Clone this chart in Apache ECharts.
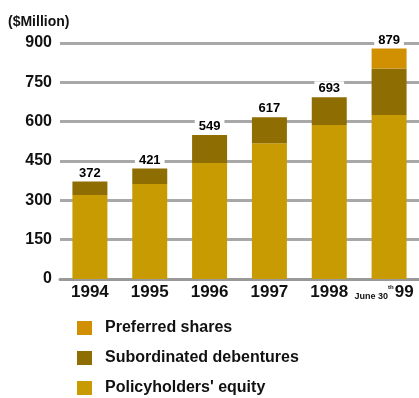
<!DOCTYPE html>
<html><head><meta charset="utf-8">
<script src="https://cdn.jsdelivr.net/npm/echarts@6/dist/echarts.min.js"></script>
<style>html,body{margin:0;padding:0;background:#fff}#c{width:419px;height:398px}</style>
</head><body><div id="c"></div>
<script>
var categories = ['1994','1995','1996','1997','1998','99'];
var equity = [320, 362, 442, 518, 587, 625];
var debentures = [52, 59, 107, 99, 106, 178];
var preferred = [0, 0, 0, 0, 0, 76];
var totals = [372, 421, 549, 617, 693, 879];
var yTicks = [0, 150, 300, 450, 600, 750, 900];

var FONT = '"Liberation Sans", Arial, sans-serif';
var chart = echarts.init(document.getElementById('c'));
chart.setOption({
  animation: false,
  backgroundColor: '#fff',
  textStyle: {fontFamily: FONT},
  title: {text: '($Million)', left: 3, top: 10,
    textStyle: {fontFamily: FONT, fontSize: 14, fontWeight: 'bold', color: '#111'}},
  grid: {left: 60, right: -1, top: 43, bottom: 119},
  legend: {
    orient: 'vertical', left: 72, top: 315, height: 90, itemGap: 14, itemWidth: 15, itemHeight: 14,
    icon: 'rect',
    data: ['Preferred shares', 'Subordinated debentures', "Policyholders' equity"],
    textStyle: {fontFamily: FONT, fontSize: 16, fontWeight: 'bold', color: '#111', padding: [0,0,0,8]}
  },
  xAxis: {
    type: 'category', data: categories,
    axisLine: {show: true, lineStyle: {color: '#999', width: 3}},
    axisTick: {show: false},
    axisLabel: {
      interval: 0, hideOverlap: false,
      margin: 5, fontFamily: FONT, fontSize: 17, fontWeight: 'bold', color: '#111',
      formatter: function (v) { return v === '99' ? '{s|June 30}{t|th}{b|99}' : v; },
      rich: {
        s: {fontFamily: FONT, fontSize: 9, color: '#111', verticalAlign: 'bottom'},
        t: {fontFamily: FONT, fontSize: 6, color: '#111', verticalAlign: 'top', padding: [0,1,0,0]},
        b: {fontFamily: FONT, fontSize: 17, fontWeight: 'bold', color: '#111', padding: [0,10,0,0]}
      }
    }
  },
  yAxis: {
    type: 'value', min: 0, max: 900, interval: 150,
    axisLine: {show: false}, axisTick: {show: false},
    splitLine: {lineStyle: {color: '#a8a8a8', width: 3}},
    axisLabel: {margin: 8, fontFamily: FONT, fontSize: 16, fontWeight: 'bold', color: '#111',
      formatter: function (v) { return yTicks.indexOf(v) >= 0 ? String(v) : ''; }}
  },
  series: [
    {name: "Policyholders' equity", type: 'bar', stack: 't', barWidth: 35, data: equity,
     itemStyle: {color: '#C99B03'}},
    {name: 'Subordinated debentures', type: 'bar', stack: 't', data: debentures,
     itemStyle: {color: '#8E6D02'}},
    {name: 'Preferred shares', type: 'bar', stack: 't', data: preferred,
     itemStyle: {color: '#D18F02'},
     label: {show: true, position: 'top', distance: 2, fontFamily: FONT, fontSize: 13,
       fontWeight: 'bold', color: '#000', backgroundColor: '#fff', padding: [1,4,0,4],
       formatter: function (p) { return String(totals[p.dataIndex]); }}}
  ]
});
</script></body></html>
